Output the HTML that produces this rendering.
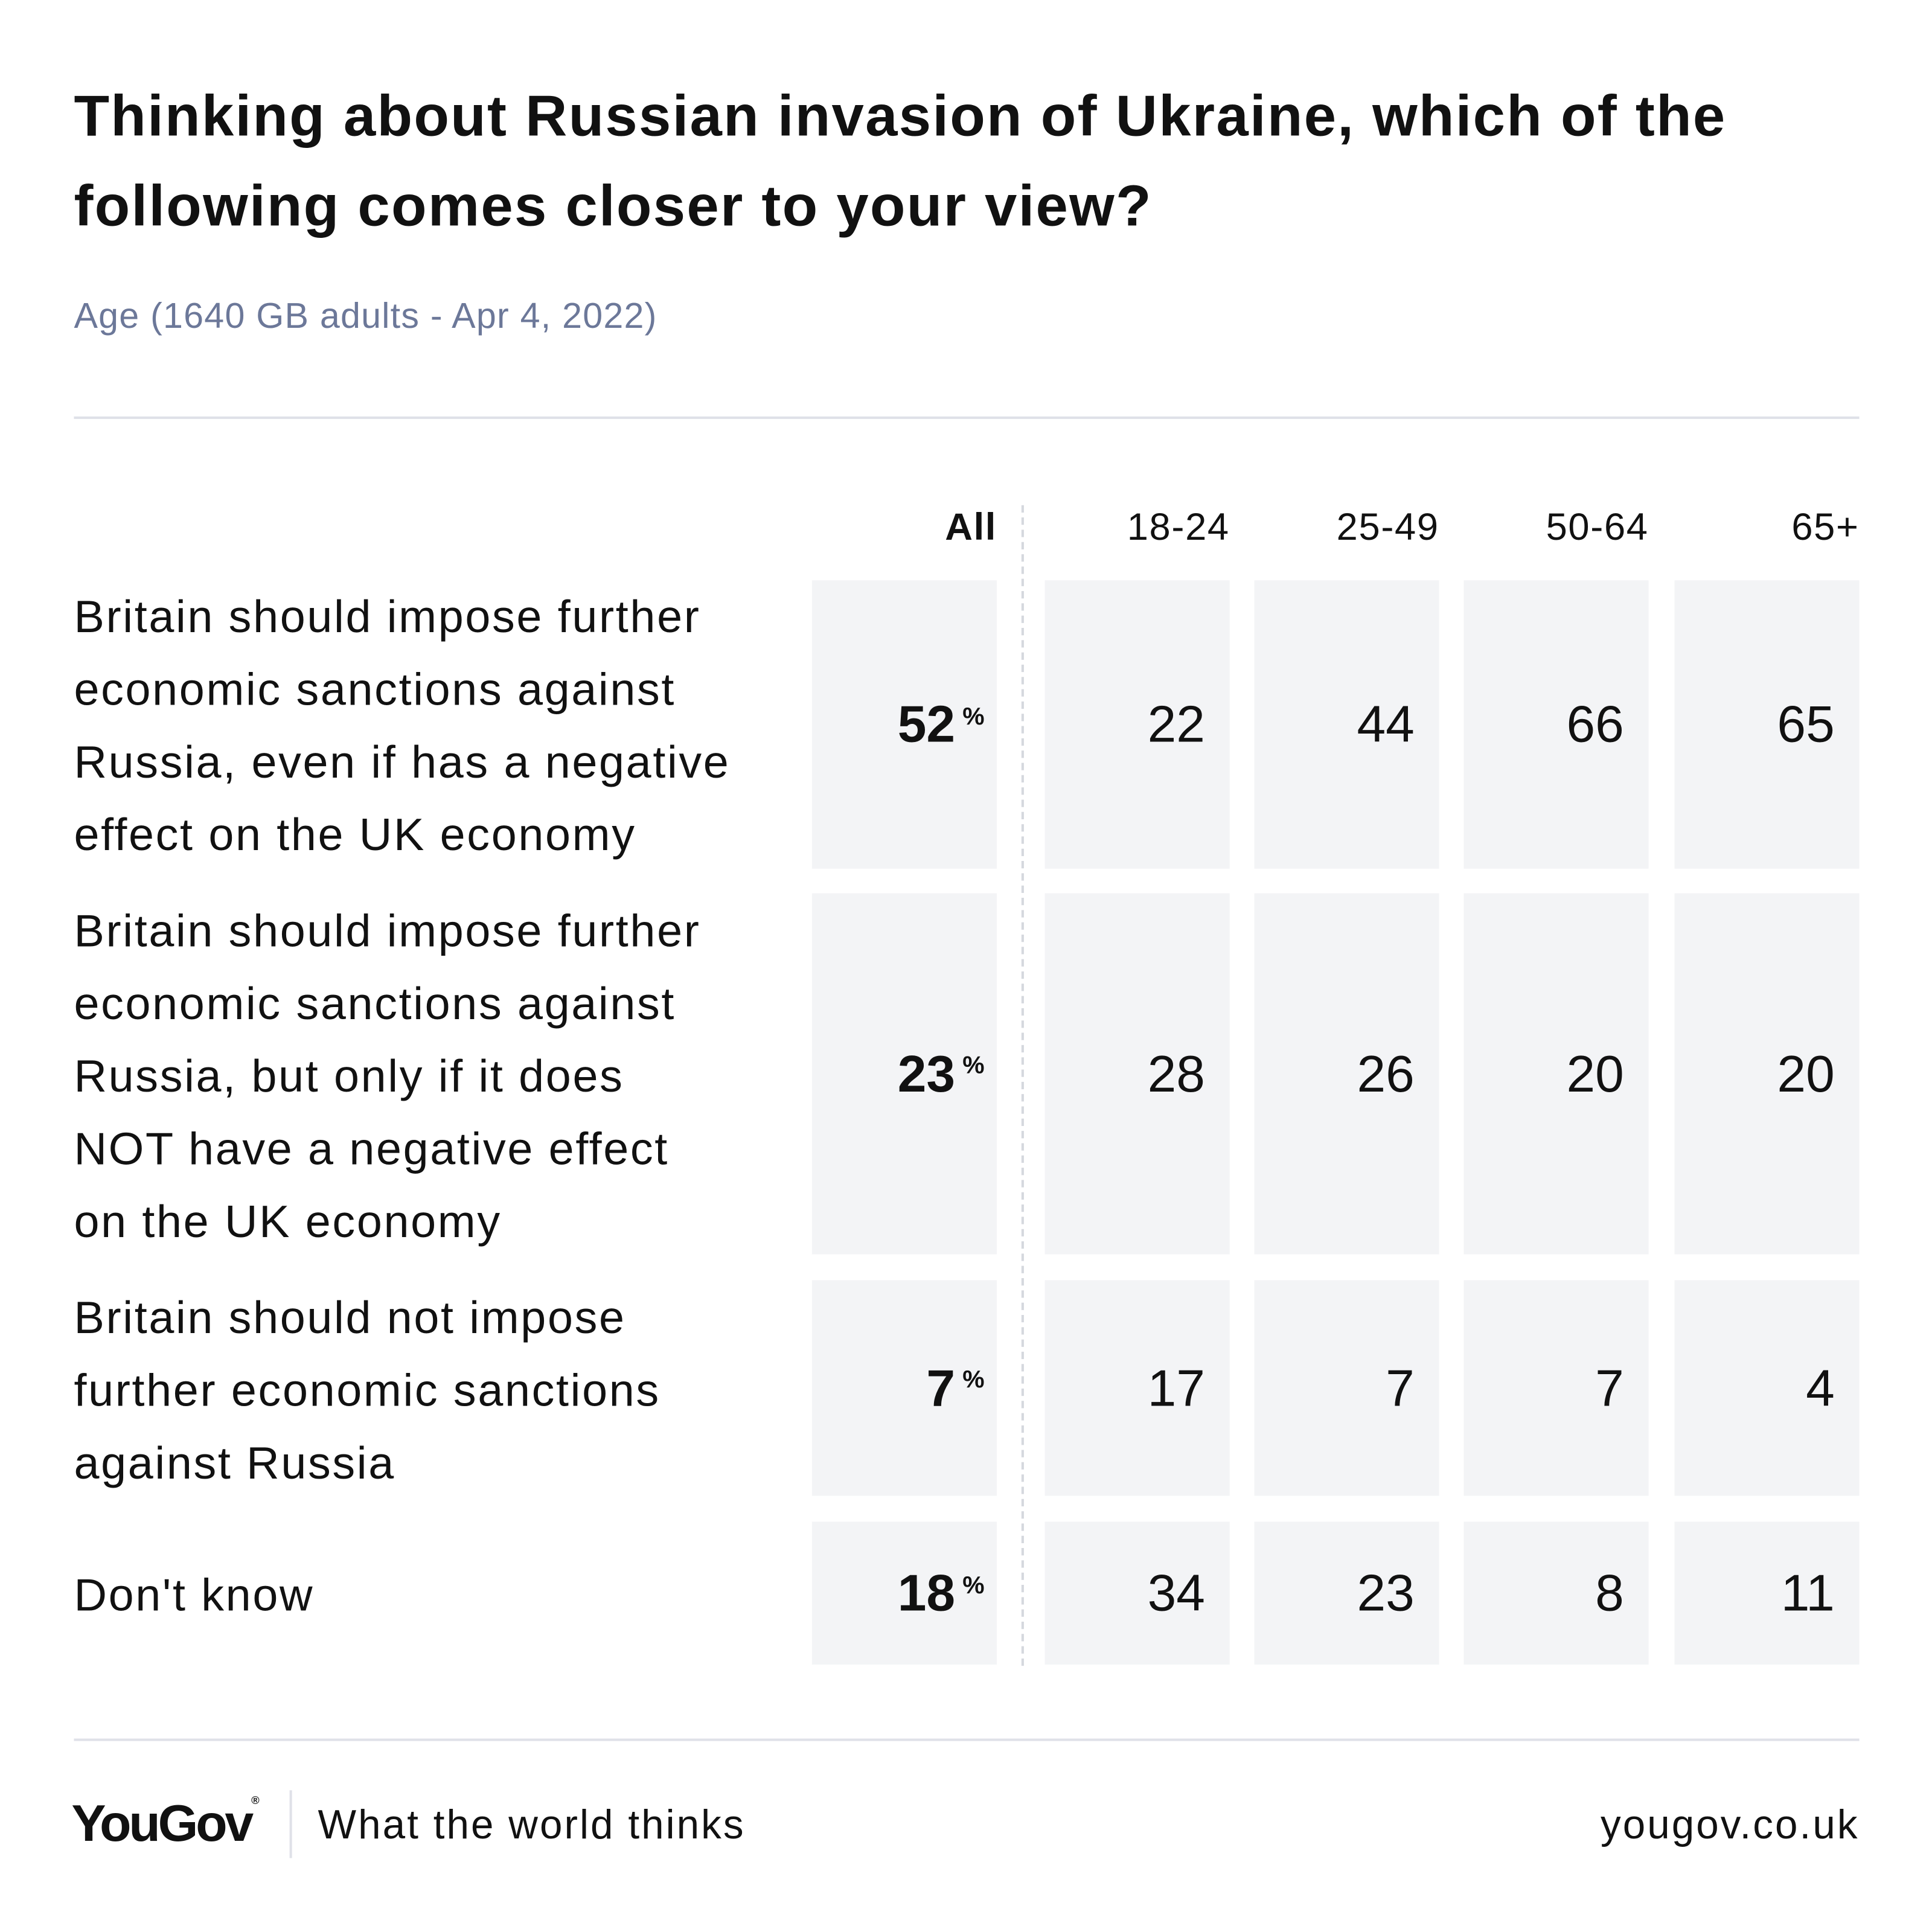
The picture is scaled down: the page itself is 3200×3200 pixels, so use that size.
<!DOCTYPE html>
<html><head><meta charset="utf-8"><style>
html,body{margin:0;padding:0;background:#fff;}
body{width:3200px;height:3200px;overflow:hidden;}
#c{position:absolute;left:0;top:0;width:1568px;height:1568px;transform:scale(2.040816);transform-origin:0 0;font-family:"Liberation Sans",sans-serif;color:#111;}
.a{position:absolute;}
.t{left:60px;font-weight:bold;font-size:47px;letter-spacing:1.1px;white-space:nowrap;}
.rule{left:60px;width:1449px;height:2px;background:#dfe1e8;}
.h{top:408px;font-size:31px;width:150px;text-align:right;line-height:40px;letter-spacing:0.8px;}
.cell{background:#f3f4f6;width:150px;display:flex;align-items:center;justify-content:flex-end;box-sizing:border-box;padding-right:20px;font-size:42px;}
.all{padding-right:10px;font-weight:bold;font-size:42px;}
.all sup{font-size:20px;margin-left:6px;vertical-align:top;position:relative;top:-6px;}
.lab{left:60px;width:600px;font-size:37px;line-height:59px;letter-spacing:1.3px;white-space:nowrap;}
</style></head><body><div id="c">
<div class="a t" style="top:66px">Thinking about Russian invasion of Ukraine, which of the</div>
<div class="a t" style="top:139px">following comes closer to your view?</div>
<div class="a" style="left:60px;top:241px;font-size:29px;letter-spacing:0.6px;color:#6c7899">Age (1640 GB adults - Apr 4, 2022)</div>
<div class="a rule" style="top:338px"></div>

<div class="a h" style="left:659px;font-weight:bold">All</div>
<div class="a h" style="left:848px">18-24</div>
<div class="a h" style="left:1018px">25-49</div>
<div class="a h" style="left:1188px">50-64</div>
<div class="a h" style="left:1359px">65+</div>
<div class="a" style="left:829px;top:410px;height:942px;border-left:2px dashed #d5d8de"></div>

<div class="a lab" style="top:471px">Britain should impose further<br>economic sanctions against<br>Russia, even if has a negative<br>effect on the UK economy</div>
<div class="a cell all" style="left:659px;top:471px;height:234px">52<sup>%</sup></div>
<div class="a cell" style="left:848px;top:471px;height:234px">22</div>
<div class="a cell" style="left:1018px;top:471px;height:234px">44</div>
<div class="a cell" style="left:1188px;top:471px;height:234px">66</div>
<div class="a cell" style="left:1359px;top:471px;height:234px">65</div>

<div class="a lab" style="top:726px">Britain should impose further<br>economic sanctions against<br>Russia, but only if it does<br>NOT have a negative effect<br>on the UK economy</div>
<div class="a cell all" style="left:659px;top:725px;height:293px">23<sup>%</sup></div>
<div class="a cell" style="left:848px;top:725px;height:293px">28</div>
<div class="a cell" style="left:1018px;top:725px;height:293px">26</div>
<div class="a cell" style="left:1188px;top:725px;height:293px">20</div>
<div class="a cell" style="left:1359px;top:725px;height:293px">20</div>

<div class="a lab" style="top:1040px">Britain should not impose<br>further economic sanctions<br>against Russia</div>
<div class="a cell all" style="left:659px;top:1039px;height:175px">7<sup>%</sup></div>
<div class="a cell" style="left:848px;top:1039px;height:175px">17</div>
<div class="a cell" style="left:1018px;top:1039px;height:175px">7</div>
<div class="a cell" style="left:1188px;top:1039px;height:175px">7</div>
<div class="a cell" style="left:1359px;top:1039px;height:175px">4</div>

<div class="a lab" style="top:1265px">Don't know</div>
<div class="a cell all" style="left:659px;top:1235px;height:116px">18<sup>%</sup></div>
<div class="a cell" style="left:848px;top:1235px;height:116px">34</div>
<div class="a cell" style="left:1018px;top:1235px;height:116px">23</div>
<div class="a cell" style="left:1188px;top:1235px;height:116px">8</div>
<div class="a cell" style="left:1359px;top:1235px;height:116px">11</div>

<div class="a rule" style="top:1411px"></div>
<div class="a" style="left:58px;top:1456px;font-size:42px;font-weight:bold;letter-spacing:-2px">YouGov<span style="font-size:9px;vertical-align:top">®</span></div>
<div class="a" style="left:235px;top:1453px;width:2px;height:55px;background:#dfe1e8"></div>
<div class="a" style="left:258px;top:1462px;font-size:33px;letter-spacing:1.5px">What the world thinks</div>
<div class="a" style="left:1150px;width:359px;text-align:right;top:1462px;font-size:33px;letter-spacing:1.5px">yougov.co.uk</div>
</div></body></html>
